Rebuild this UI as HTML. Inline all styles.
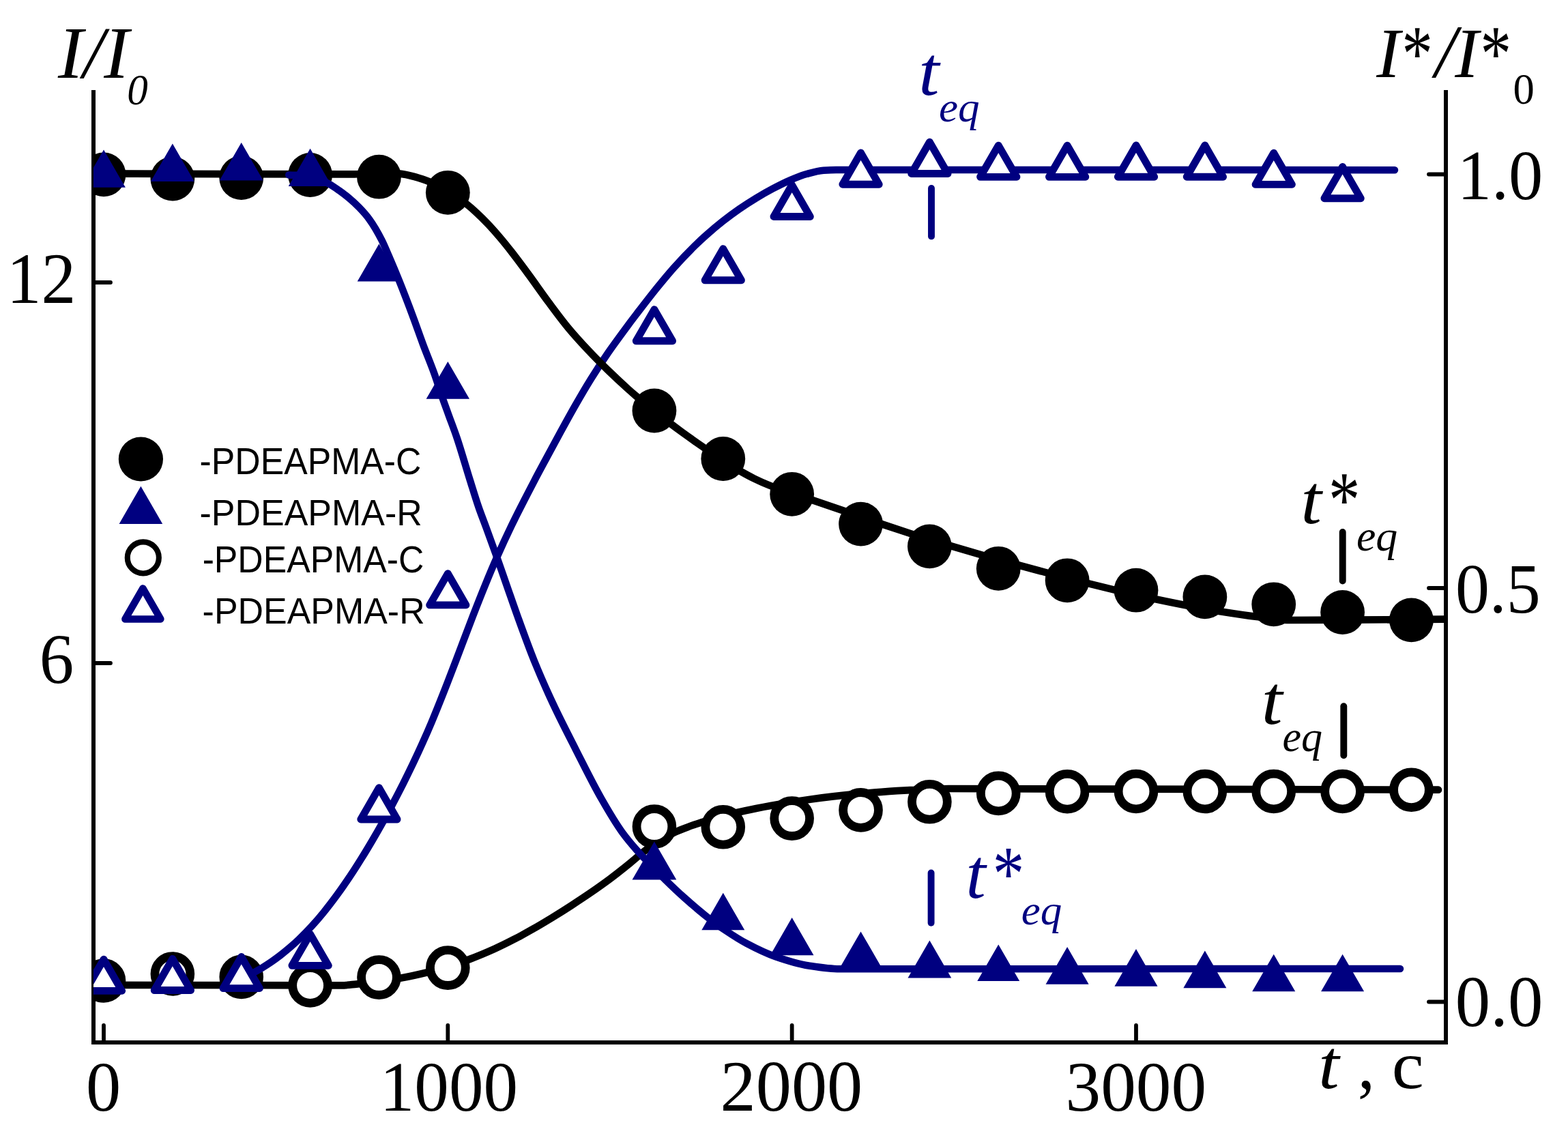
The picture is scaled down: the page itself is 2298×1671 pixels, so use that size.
<!DOCTYPE html>
<html><head><meta charset="utf-8"><title>I/I0 vs t</title><style>html,body{margin:0;padding:0;background:#fff;overflow:hidden}svg{display:block}</style></head><body>
<svg width="2298" height="1671" viewBox="0 0 2298 1671">
<rect width="2298" height="1671" fill="#fff"/>
<defs><clipPath id="pc"><rect x="137" y="0" width="1982" height="1528"/></clipPath></defs>
<g stroke="#000" stroke-width="6" fill="none">
<path d="M137 132V1531M134 1528H2122M2119 132V1531"/>
</g>
<g stroke="#000" stroke-width="5.8" stroke-linecap="round" fill="none">
<path d="M152 1503V1526"/>
<path d="M656.33 1503V1526"/>
<path d="M1160.66 1503V1526"/>
<path d="M1664.99 1503V1526"/>
<path d="M138 414H162"/>
<path d="M138 972H162"/>
<path d="M2118 255.5H2094"/>
<path d="M2118 862H2094"/>
<path d="M2118 1468.5H2094"/>
</g>
<g clip-path="url(#pc)">
<path d="M137 1443.8 C258 1443.98 379 1444.33 500 1444.33 C507.33 1444.33 514.67 1443.26 522 1442.58 C533.17 1441.55 544.33 1440.25 555.5 1438.77 C565.87 1437.39 576.23 1435.71 586.6 1433.82 C599.83 1431.41 613.07 1428.49 626.3 1425.25 C636.2 1422.83 646.1 1420.01 656 1416.99 C666.67 1413.73 677.33 1410.1 688 1406.12 C700.23 1401.56 712.47 1396.42 724.7 1390.91 C734.1 1386.67 743.5 1381.97 752.9 1377.11 C762.3 1372.26 771.7 1367.05 781.1 1361.7 C790.5 1356.35 799.9 1350.71 809.3 1344.96 C818.7 1339.2 828.1 1333.24 837.5 1327.16 C846.9 1321.07 856.3 1314.9 865.7 1308.43 C875.13 1301.94 884.57 1295.29 894 1288.24 C903.4 1281.21 912.8 1273.71 922.2 1266.09 C929.27 1260.36 936.33 1253.98 943.4 1248.38 C948.93 1243.99 954.47 1239.37 960 1235.8 C970.03 1229.34 980.07 1223.94 990.1 1219.38 C995.73 1216.83 1001.37 1214.74 1007 1212.65 C1014.03 1210.04 1021.07 1207.54 1028.1 1205.34 C1045.4 1199.94 1062.7 1195.16 1080 1191.01 C1089.4 1188.76 1098.8 1186.81 1108.2 1184.92 C1115.27 1183.49 1122.33 1182.14 1129.4 1180.9 C1148.67 1177.52 1167.93 1174.4 1187.2 1171.71 C1198.5 1170.13 1209.8 1168.72 1221.1 1167.42 C1229.57 1166.44 1238.03 1165.51 1246.5 1164.69 C1261.53 1163.24 1276.57 1161.89 1291.6 1160.8 C1305.73 1159.78 1319.87 1158.84 1334 1158.17 C1352.8 1157.27 1371.6 1156.01 1390.4 1156.01 C1629.6 1156.01 1868.8 1157.14 2108 1157.7" fill="none" stroke="#000" stroke-width="10.7" stroke-linecap="round" stroke-linejoin="round"/>
<circle cx="152" cy="1437.5" r="25.9" fill="#fff" stroke="#000" stroke-width="12.8"/>
<circle cx="252.87" cy="1427.5" r="25.9" fill="#fff" stroke="#000" stroke-width="12.8"/>
<circle cx="353.73" cy="1432" r="25.9" fill="#fff" stroke="#000" stroke-width="12.8"/>
<circle cx="454.6" cy="1444.5" r="25.9" fill="#fff" stroke="#000" stroke-width="12.8"/>
<circle cx="555.46" cy="1432.6" r="25.9" fill="#fff" stroke="#000" stroke-width="12.8"/>
<circle cx="656.33" cy="1418.6" r="25.9" fill="#fff" stroke="#000" stroke-width="12.8"/>
<circle cx="958.93" cy="1211.6" r="25.9" fill="#fff" stroke="#000" stroke-width="12.8"/>
<circle cx="1059.79" cy="1212.3" r="25.9" fill="#fff" stroke="#000" stroke-width="12.8"/>
<circle cx="1160.66" cy="1199.6" r="25.9" fill="#fff" stroke="#000" stroke-width="12.8"/>
<circle cx="1261.53" cy="1187.4" r="25.9" fill="#fff" stroke="#000" stroke-width="12.8"/>
<circle cx="1362.39" cy="1175.3" r="25.9" fill="#fff" stroke="#000" stroke-width="12.8"/>
<circle cx="1463.26" cy="1162.9" r="25.9" fill="#fff" stroke="#000" stroke-width="12.8"/>
<circle cx="1564.12" cy="1160.2" r="25.9" fill="#fff" stroke="#000" stroke-width="12.8"/>
<circle cx="1664.99" cy="1160" r="25.9" fill="#fff" stroke="#000" stroke-width="12.8"/>
<circle cx="1765.86" cy="1160" r="25.9" fill="#fff" stroke="#000" stroke-width="12.8"/>
<circle cx="1866.72" cy="1160" r="25.9" fill="#fff" stroke="#000" stroke-width="12.8"/>
<circle cx="1967.59" cy="1160" r="25.9" fill="#fff" stroke="#000" stroke-width="12.8"/>
<circle cx="2068.45" cy="1157.7" r="25.9" fill="#fff" stroke="#000" stroke-width="12.8"/>
<path d="M356 1434 C365.2 1428.98 374.4 1424.42 383.6 1418.93 C388.17 1416.2 392.73 1413.21 397.3 1410.09 C401.83 1407 406.37 1403.7 410.9 1400.22 C415.47 1396.72 420.03 1392.99 424.6 1389.07 C429.13 1385.19 433.67 1381.09 438.2 1376.74 C444.67 1370.54 451.13 1363.89 457.6 1356.81 C463.13 1350.76 468.67 1344.26 474.2 1337.46 C480.8 1329.36 487.4 1320.71 494 1311.7 C500.13 1303.32 506.27 1294.44 512.4 1285.29 C518.13 1276.73 523.87 1267.77 529.6 1258.57 C534.9 1250.08 540.2 1241.26 545.5 1232.25 C550.4 1223.91 555.3 1215.35 560.2 1206.57 C565.33 1197.38 570.47 1187.94 575.6 1178.25 C580.7 1168.63 585.8 1158.76 590.9 1148.62 C595.77 1138.94 600.63 1129.04 605.5 1118.82 C610.03 1109.3 614.57 1099.54 619.1 1089.44 C623.6 1079.42 628.1 1069.14 632.6 1058.42 C640.4 1039.85 648.2 1020.11 656 1000.17 C660.07 989.78 664.13 978.96 668.2 968.3 C676.37 946.89 684.53 924.8 692.7 903.79 C698.83 888 704.97 872.36 711.1 857.4 C716.67 843.82 722.23 830.53 727.8 817.92 C735.2 801.15 742.6 785.13 750 769.83 C760.93 747.22 771.87 726.27 782.8 705.34 C789.03 693.41 795.27 681.93 801.5 670.31 C808.17 657.88 814.83 645.4 821.5 633.21 C828.6 620.22 835.7 607.2 842.8 594.8 C850.57 581.24 858.33 567.87 866.1 555.42 C874.5 541.95 882.9 529.22 891.3 517.02 C901 502.94 910.7 489.83 920.4 476.77 C924.8 470.84 929.2 465.08 933.6 459.35 C943.73 446.16 953.87 432.93 964 420.48 C972.17 410.44 980.33 400.54 988.5 391.44 C998.6 380.19 1008.7 369.63 1018.8 359.73 C1023.9 354.73 1029 349.99 1034.1 345.46 C1042.33 338.14 1050.57 331.14 1058.8 324.66 C1067.03 318.18 1075.27 312.09 1083.5 306.4 C1091.7 300.74 1099.9 295.42 1108.1 290.46 C1116.33 285.47 1124.57 280.75 1132.8 276.42 C1141.03 272.09 1149.27 267.82 1157.5 264.32 C1165.73 260.83 1173.97 257.31 1182.2 255.06 C1190.43 252.8 1198.67 250.33 1206.9 249.74 C1213.07 249.3 1219.23 248.92 1225.4 248.92 C1498.27 248.92 1771.13 249.11 2044 249.2" fill="none" stroke="#000080" stroke-width="10.5" stroke-linecap="round" stroke-linejoin="round"/>
<path d="M152 1406.22L178.65 1452.38L125.35 1452.38Z" fill="#fff" stroke="#000080" stroke-width="10.9" stroke-linejoin="round"/>
<path d="M252.87 1405.37L279.52 1451.53L226.22 1451.53Z" fill="#fff" stroke="#000080" stroke-width="10.9" stroke-linejoin="round"/>
<path d="M353.73 1402.42L380.38 1448.58L327.08 1448.58Z" fill="#fff" stroke="#000080" stroke-width="10.9" stroke-linejoin="round"/>
<path d="M454.6 1369.17L481.25 1415.33L427.95 1415.33Z" fill="#fff" stroke="#000080" stroke-width="10.9" stroke-linejoin="round"/>
<path d="M555.46 1154.77L582.11 1200.93L528.81 1200.93Z" fill="#fff" stroke="#000080" stroke-width="10.9" stroke-linejoin="round"/>
<path d="M656.33 840.72L682.98 886.88L629.68 886.88Z" fill="#fff" stroke="#000080" stroke-width="10.9" stroke-linejoin="round"/>
<path d="M958.93 453.62L985.58 499.78L932.28 499.78Z" fill="#fff" stroke="#000080" stroke-width="10.9" stroke-linejoin="round"/>
<path d="M1059.79 364.62L1086.44 410.78L1033.14 410.78Z" fill="#fff" stroke="#000080" stroke-width="10.9" stroke-linejoin="round"/>
<path d="M1160.66 271.32L1187.31 317.48L1134.01 317.48Z" fill="#fff" stroke="#000080" stroke-width="10.9" stroke-linejoin="round"/>
<path d="M1261.53 224.07L1288.18 270.23L1234.88 270.23Z" fill="#fff" stroke="#000080" stroke-width="10.9" stroke-linejoin="round"/>
<path d="M1362.39 208.32L1389.04 254.48L1335.74 254.48Z" fill="#fff" stroke="#000080" stroke-width="10.9" stroke-linejoin="round"/>
<path d="M1463.26 213.17L1489.91 259.33L1436.61 259.33Z" fill="#fff" stroke="#000080" stroke-width="10.9" stroke-linejoin="round"/>
<path d="M1564.12 213.17L1590.77 259.33L1537.47 259.33Z" fill="#fff" stroke="#000080" stroke-width="10.9" stroke-linejoin="round"/>
<path d="M1664.99 213.07L1691.64 259.23L1638.34 259.23Z" fill="#fff" stroke="#000080" stroke-width="10.9" stroke-linejoin="round"/>
<path d="M1765.86 213.07L1792.51 259.23L1739.21 259.23Z" fill="#fff" stroke="#000080" stroke-width="10.9" stroke-linejoin="round"/>
<path d="M1866.72 224.22L1893.37 270.38L1840.07 270.38Z" fill="#fff" stroke="#000080" stroke-width="10.9" stroke-linejoin="round"/>
<path d="M1967.59 244.57L1994.24 290.73L1940.94 290.73Z" fill="#fff" stroke="#000080" stroke-width="10.9" stroke-linejoin="round"/>
<path d="M137 254.4 C264.67 254.75 392.33 255.45 520 255.45 C532 255.45 544 252.61 556 252.61 C566.67 252.61 577.33 253.72 588 254.92 C593.83 255.57 599.67 257.06 605.5 258.49 C610.33 259.68 615.17 261.22 620 262.85 C623.4 264 626.8 265.28 630.2 266.73 C638.93 270.44 647.67 274.82 656.4 279.96 C666.13 285.68 675.87 292.96 685.6 300.67 C689.7 303.92 693.8 307.59 697.9 311.37 C703.57 316.59 709.23 322.19 714.9 328.13 C720.77 334.28 726.63 340.97 732.5 347.87 C738.37 354.76 744.23 362.1 750.1 369.61 C758.27 380.07 766.43 391.19 774.6 402.28 C784.3 415.46 794 429.58 803.7 442.62 C813.4 455.66 823.1 468.9 832.8 480.59 C842.5 492.27 852.2 502.83 861.9 513.15 C871.6 523.47 881.3 533.21 891 542.64 C900.7 552.08 910.4 561.09 920.1 569.85 C924.1 573.46 928.1 576.97 932.1 580.4 C940.9 587.94 949.7 595.3 958.5 602.3 C972.33 613.3 986.17 623.69 1000 633.8 C1010.57 641.51 1021.13 648.9 1031.7 656.18 C1041.13 662.68 1050.57 669.18 1060 675.24 C1068.57 680.74 1077.13 686.13 1085.7 691.01 C1092.2 694.72 1098.7 698.27 1105.2 701.44 C1112.83 705.16 1120.47 708.57 1128.1 711.64 C1138.87 715.97 1149.63 719.66 1160.4 723.34 C1171.03 726.98 1181.67 730.16 1192.3 733.68 C1206.47 738.38 1220.63 743.22 1234.8 748.12 C1243.63 751.17 1252.47 754.33 1261.3 757.41 C1272.33 761.26 1283.37 765.16 1294.4 768.89 C1307.63 773.37 1320.87 777.74 1334.1 782 C1343.4 784.99 1352.7 787.9 1362 790.77 C1372.7 794.07 1383.4 797.3 1394.1 800.47 C1408.9 804.86 1423.7 809.12 1438.5 813.33 C1446.63 815.65 1454.77 817.92 1462.9 820.18 C1473.6 823.15 1484.3 826.09 1495 829 C1508.17 832.59 1521.33 836.14 1534.5 839.64 C1544.23 842.22 1553.97 844.79 1563.7 847.3 C1574.63 850.13 1585.57 852.93 1596.5 855.66 C1608.73 858.71 1620.97 861.71 1633.2 864.62 C1643.8 867.14 1654.4 869.61 1665 872 C1674.53 874.15 1684.07 876.27 1693.6 878.28 C1708.4 881.41 1723.2 884.44 1738 887.28 C1747.33 889.08 1756.67 890.79 1766 892.43 C1773.97 893.84 1781.93 895.22 1789.9 896.48 C1807.17 899.2 1824.43 901.83 1841.7 904.01 C1856.47 905.88 1871.23 908.99 1886 908.99 C1962.67 908.99 2039.33 908.13 2116 907.7" fill="none" stroke="#000" stroke-width="10.7" stroke-linecap="round" stroke-linejoin="round"/>
<circle cx="152" cy="255.9" r="32.4" fill="#000"/>
<circle cx="252.87" cy="262" r="32.4" fill="#000"/>
<circle cx="353.73" cy="260.6" r="32.4" fill="#000"/>
<circle cx="454.6" cy="256.5" r="32.4" fill="#000"/>
<circle cx="555.46" cy="259.2" r="32.4" fill="#000"/>
<circle cx="656.33" cy="282.3" r="32.4" fill="#000"/>
<circle cx="958.93" cy="602" r="32.4" fill="#000"/>
<circle cx="1059.79" cy="672.5" r="32.4" fill="#000"/>
<circle cx="1160.66" cy="724.3" r="32.4" fill="#000"/>
<circle cx="1261.53" cy="768.1" r="32.4" fill="#000"/>
<circle cx="1362.39" cy="800.9" r="32.4" fill="#000"/>
<circle cx="1463.26" cy="833.3" r="32.4" fill="#000"/>
<circle cx="1564.12" cy="850.8" r="32.4" fill="#000"/>
<circle cx="1664.99" cy="865.2" r="32.4" fill="#000"/>
<circle cx="1765.86" cy="874.9" r="32.4" fill="#000"/>
<circle cx="1866.72" cy="885.8" r="32.4" fill="#000"/>
<circle cx="1967.59" cy="897.5" r="32.4" fill="#000"/>
<circle cx="2068.45" cy="908.9" r="32.4" fill="#000"/>
<path d="M423.3 256.4 C434.2 256.89 445.1 256.95 456 257.87 C464.83 258.61 473.67 264.97 482.5 269.76 C487.37 272.4 492.23 275.86 497.1 279.3 C501.97 282.75 506.83 286.48 511.7 290.57 C516.53 294.63 521.37 298.98 526.2 303.96 C531.43 309.35 536.67 315.09 541.9 322.29 C547.73 330.32 553.57 340.44 559.4 351.82 C562.93 358.71 566.47 367.46 570 375.65 C575.07 387.38 580.13 399.48 585.2 412.08 C592.07 429.16 598.93 447.14 605.8 465.56 C610.6 478.44 615.4 492.5 620.2 505.36 C625.7 520.1 631.2 532.92 636.7 548.22 C640.8 559.62 644.9 573.03 649 584.76 C651.67 592.38 654.33 599.55 657 606.92 C661.27 618.71 665.53 629.56 669.8 642.2 C676.2 661.16 682.6 683.97 689 704.35 C693.13 717.51 697.27 731.28 701.4 743.28 C705.07 753.92 708.73 763.03 712.4 773.05 C717.53 787.07 722.67 801.13 727.8 815.55 C732.73 829.42 737.67 843.82 742.6 857.92 C747.8 872.78 753 888.05 758.2 902.45 C766.4 925.17 774.6 948.11 782.8 968.36 C792.07 991.24 801.33 1011.97 810.6 1031.82 C821.53 1055.24 832.47 1076.27 843.4 1097.77 C855.93 1122.41 868.47 1148.07 881 1170.02 C891.23 1187.95 901.47 1205.52 911.7 1219.7 C918.77 1229.49 925.83 1237.69 932.9 1245.77 C936.43 1249.8 939.97 1253.5 943.5 1257.23 C954.07 1268.39 964.63 1279.29 975.2 1289.64 C984.53 1298.79 993.87 1307.67 1003.2 1316.01 C1013.3 1325.04 1023.4 1333.77 1033.5 1341.76 C1043.63 1349.77 1053.77 1357.44 1063.9 1364.25 C1074 1371.04 1084.1 1377.58 1094.2 1382.92 C1108.33 1390.4 1122.47 1397.44 1136.6 1402.29 C1152.77 1407.84 1168.93 1413.07 1185.1 1415.51 C1200.27 1417.8 1215.43 1420.3 1230.6 1420.3 C1504.4 1420.3 1778.2 1420.1 2052 1420" fill="none" stroke="#000080" stroke-width="10.5" stroke-linecap="round" stroke-linejoin="round"/>
<path d="M152 219.6L183.87 274.8L120.13 274.8Z" fill="#000080"/>
<path d="M252.87 210.6L284.85 266L220.88 266Z" fill="#000080"/>
<path d="M353.73 209L385.83 264.6L321.63 264.6Z" fill="#000080"/>
<path d="M454.6 217.8L486.41 272.9L422.79 272.9Z" fill="#000080"/>
<path d="M555.46 357.6L587.22 412.6L523.71 412.6Z" fill="#000080"/>
<path d="M656.33 529.9L688.03 584.8L624.63 584.8Z" fill="#000080"/>
<path d="M958.93 1233.5L991.32 1289.6L926.54 1289.6Z" fill="#000080"/>
<path d="M1059.79 1308.7L1091.26 1363.2L1028.33 1363.2Z" fill="#000080"/>
<path d="M1160.66 1345L1192.53 1400.2L1128.79 1400.2Z" fill="#000080"/>
<path d="M1261.53 1365.4L1293.63 1421L1229.43 1421Z" fill="#000080"/>
<path d="M1362.39 1378.4L1394.26 1433.6L1330.52 1433.6Z" fill="#000080"/>
<path d="M1463.26 1384.5L1494.2 1438.1L1432.31 1438.1Z" fill="#000080"/>
<path d="M1564.12 1388.1L1595.65 1442.7L1532.6 1442.7Z" fill="#000080"/>
<path d="M1664.99 1391.1L1696.51 1445.7L1633.47 1445.7Z" fill="#000080"/>
<path d="M1765.86 1393.6L1797.38 1448.2L1734.33 1448.2Z" fill="#000080"/>
<path d="M1866.72 1398.7L1898.25 1453.3L1835.2 1453.3Z" fill="#000080"/>
<path d="M1967.59 1398.7L1999.11 1453.3L1936.06 1453.3Z" fill="#000080"/>
</g>
<g stroke-width="9.9" stroke-linecap="round">
<path d="M1365 276V346.4" stroke="#000080"/>
<path d="M1364.6 1279.4V1352.8" stroke="#000080"/>
<path d="M1967.7 780V851.5" stroke="#000"/>
<path d="M1969.3 1035.3V1107.2" stroke="#000"/>
</g>
<circle cx="206.4" cy="673" r="32.6" fill="#000"/>
<path d="M206.4 712.8L238.21 767.9L174.59 767.9Z" fill="#000080"/>
<circle cx="209.8" cy="817.4" r="23.05" fill="#fff" stroke="#000" stroke-width="8.1"/>
<path d="M209.4 862.43L235.4 907.47L183.4 907.47Z" fill="#fff" stroke="#000080" stroke-width="10.5" stroke-linejoin="round"/>
<text transform="translate(125.9 1627.81) scale(1.0238 1.0448)" font-family="Liberation Serif, sans-serif" font-size="100" fill="#000">0</text>
<text transform="translate(556.8 1627.94) scale(1.0112 1.0324)" font-family="Liberation Serif, sans-serif" font-size="100" fill="#000">1000</text>
<text transform="translate(1055.53 1627.9) scale(1.0437 1.0493)" font-family="Liberation Serif, sans-serif" font-size="100" fill="#000">2000</text>
<text transform="translate(1561.53 1627.9) scale(1.0335 1.0478)" font-family="Liberation Serif, sans-serif" font-size="100" fill="#000">3000</text>
<text transform="translate(9.65 444) scale(1.0165 1.0500)" font-family="Liberation Serif, sans-serif" font-size="100" fill="#000">12</text>
<text transform="translate(57.76 1000.9) scale(1.0093 1.0478)" font-family="Liberation Serif, sans-serif" font-size="100" fill="#000">6</text>
<text transform="translate(2135.66 291.93) scale(1.0045 1.0338)" font-family="Liberation Serif, sans-serif" font-size="100" fill="#000">1.0</text>
<text transform="translate(2132.9 898.01) scale(0.9991 1.0463)" font-family="Liberation Serif, sans-serif" font-size="100" fill="#000">0.5</text>
<text transform="translate(2132.79 1503.8) scale(1.0282 1.0478)" font-family="Liberation Serif, sans-serif" font-size="100" fill="#000">0.0</text>
<text transform="translate(84.9 113.61) scale(1.1041 1.0879)" font-family="Liberation Serif, sans-serif" font-style="italic" font-size="100" fill="#000">I/I</text>
<text transform="translate(186.26 152.84) scale(0.6111 0.6299)" font-family="Liberation Serif, sans-serif" font-style="italic" font-size="100" fill="#000">0</text>
<text transform="translate(2017.17 112.8) scale(1.0446 1.0446)" font-family="Liberation Serif, sans-serif" font-style="italic" font-size="100" fill="#000">I</text>
<text transform="translate(2054.47 117.81) scale(0.9050 1.1694)" font-family="Liberation Serif, sans-serif" font-size="100" fill="#000">*</text>
<text transform="translate(2103.25 112.81) scale(1.1128 1.0924)" font-family="Liberation Serif, sans-serif" font-style="italic" font-size="100" fill="#000">/</text>
<text transform="translate(2132.17 112.8) scale(1.0446 1.0446)" font-family="Liberation Serif, sans-serif" font-style="italic" font-size="100" fill="#000">I</text>
<text transform="translate(2169.45 117.81) scale(0.9100 1.1694)" font-family="Liberation Serif, sans-serif" font-size="100" fill="#000">*</text>
<text transform="translate(2217.4 151.64) scale(0.6262 0.6284)" font-family="Liberation Serif, sans-serif" font-size="100" fill="#000">0</text>
<text transform="translate(1346.35 138.78) scale(1.0885 1.0158)" font-family="Liberation Serif, sans-serif" font-style="italic" font-size="100" fill="#000080">t</text>
<text transform="translate(1376 178.41) scale(0.6326 0.6088)" font-family="Liberation Serif, sans-serif" font-style="italic" font-size="100" fill="#000080">eq</text>
<text transform="translate(1906.53 766.68) scale(1.0923 1.0193)" font-family="Liberation Serif, sans-serif" font-style="italic" font-size="100" fill="#000">t</text>
<text transform="translate(1946.97 771.83) scale(0.9250 1.1667)" font-family="Liberation Serif, sans-serif" font-size="100" fill="#000">*</text>
<text transform="translate(1987.99 807.36) scale(0.6382 0.6353)" font-family="Liberation Serif, sans-serif" font-style="italic" font-size="100" fill="#000">eq</text>
<text transform="translate(1848.67 1061.19) scale(1.1077 1.0123)" font-family="Liberation Serif, sans-serif" font-style="italic" font-size="100" fill="#000">t</text>
<text transform="translate(1879.44 1101.23) scale(0.6202 0.6368)" font-family="Liberation Serif, sans-serif" font-style="italic" font-size="100" fill="#000">eq</text>
<text transform="translate(1415.6 1315.86) scale(1.0500 1.0386)" font-family="Liberation Serif, sans-serif" font-style="italic" font-size="100" fill="#000080">t</text>
<text transform="translate(1454.65 1319.03) scale(0.9300 1.1528)" font-family="Liberation Serif, sans-serif" font-size="100" fill="#000080">*</text>
<text transform="translate(1496.81 1355.31) scale(0.6303 0.6235)" font-family="Liberation Serif, sans-serif" font-style="italic" font-size="100" fill="#000080">eq</text>
<text transform="translate(1932.33 1594.88) scale(1.0923 1.0193)" font-family="Liberation Serif, sans-serif" font-style="italic" font-size="100" fill="#000">t</text>
<text transform="translate(1989.75 1595.32) scale(1.0133 1.0520)" font-family="Liberation Serif, sans-serif" font-size="100" fill="#000">,</text>
<text transform="translate(2039.77 1594.9) scale(1.0568 1.0000)" font-family="Liberation Serif, sans-serif" font-size="100" fill="#000">с</text>
<text transform="translate(292.53 694.54) scale(0.5174 0.5563)" font-family="Liberation Sans, sans-serif" font-size="100" fill="#000">-PDEAPMA-C</text>
<text transform="translate(292.52 769.8) scale(0.5196 0.5348)" font-family="Liberation Sans, sans-serif" font-size="100" fill="#000">-PDEAPMA-R</text>
<text transform="translate(296.63 839.45) scale(0.5173 0.5479)" font-family="Liberation Sans, sans-serif" font-size="100" fill="#000">-PDEAPMA-C</text>
<text transform="translate(296.62 913.8) scale(0.5194 0.5333)" font-family="Liberation Sans, sans-serif" font-size="100" fill="#000">-PDEAPMA-R</text>
</svg>
</body></html>
